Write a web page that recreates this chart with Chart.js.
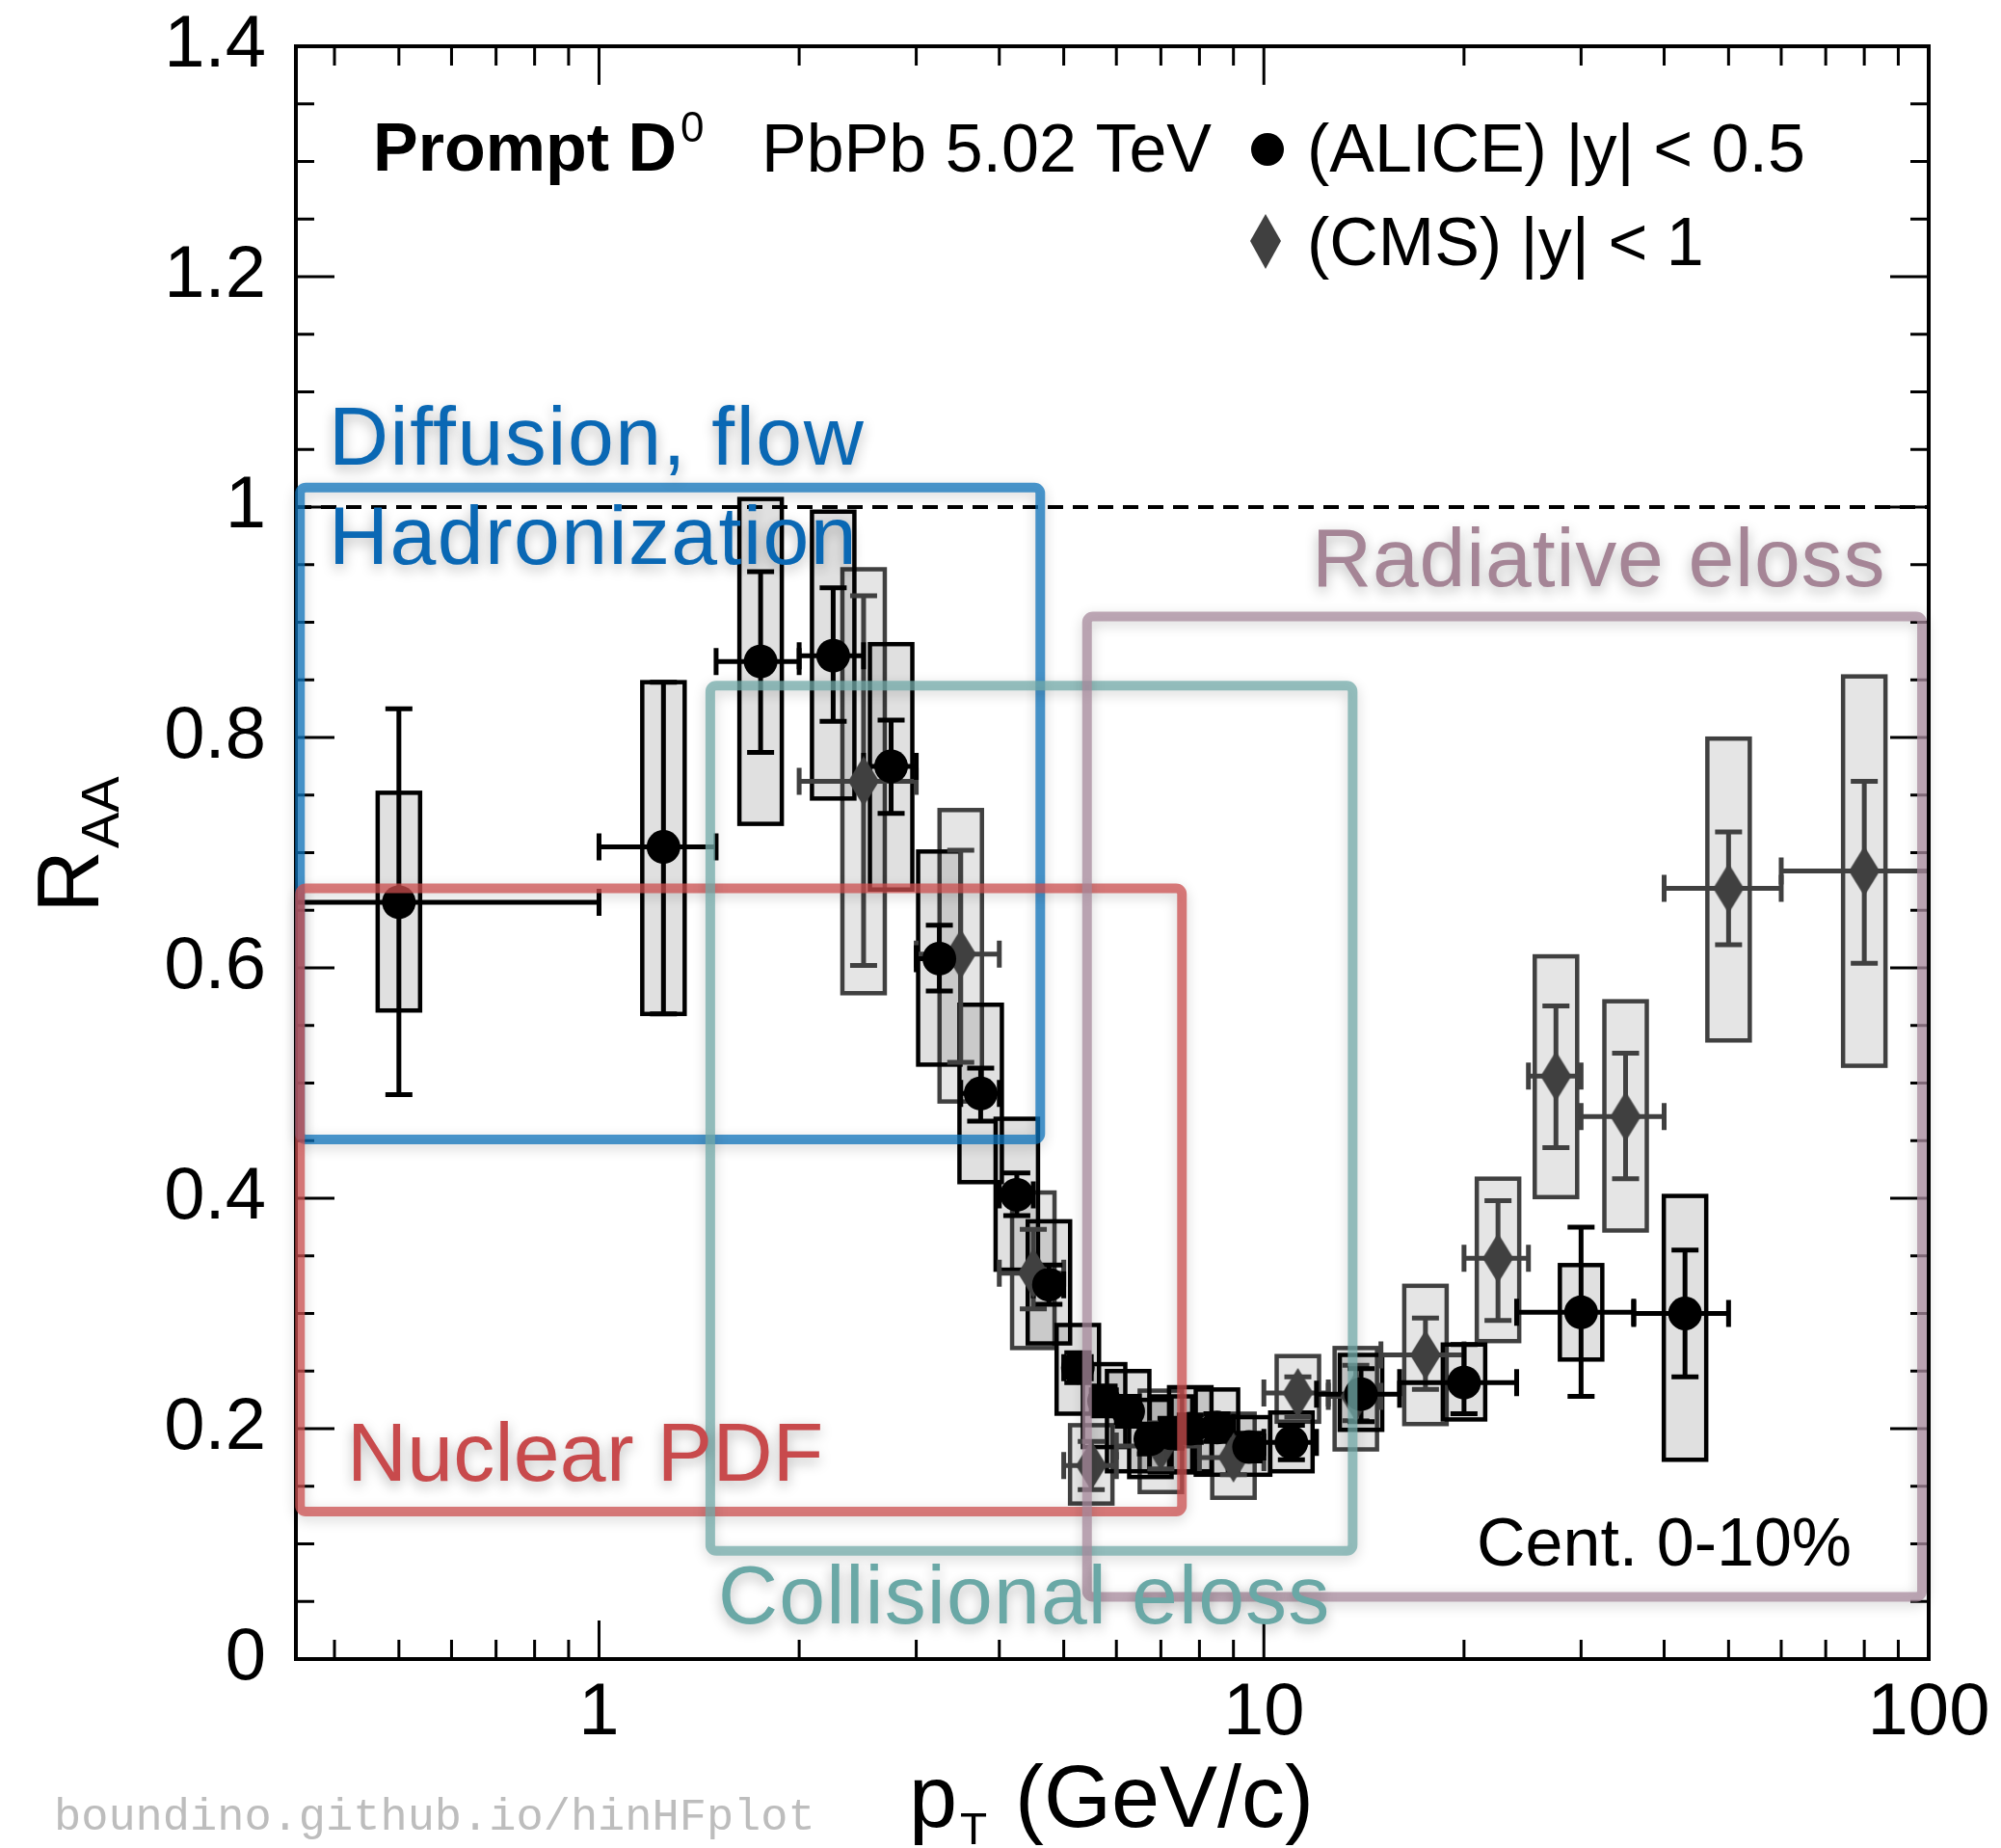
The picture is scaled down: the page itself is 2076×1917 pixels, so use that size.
<!DOCTYPE html>
<html>
<head>
<meta charset="utf-8">
<script src="https://cdn.jsdelivr.net/npm/chart.js@4/dist/chart.umd.min.js"></script>
<style>
html,body{margin:0;padding:0;background:#fff;}
#wrap{width:2076px;height:1917px;position:relative;}
</style>
</head>
<body>
<div id="wrap"><canvas id="c" width="2076" height="1917"></canvas></div>
<script>
// ---------------- DATA ----------------
const xTickValues = [1, 10, 100];
const xTickLabels = ['1', '10', '100'];
const yTickValues = [0, 0.2, 0.4, 0.6, 0.8, 1.0, 1.2, 1.4];
const yTickLabels = ['0', '0.2', '0.4', '0.6', '0.8', '1', '1.2', '1.4'];

// ALICE |y|<0.5
const aliceX      = [0.5, 1.25, 1.75, 2.25, 2.75, 3.25, 3.75, 4.25, 4.75, 5.25, 5.75, 6.25, 6.75, 7.25, 7.75, 8.5, 9.5, 11, 14, 20, 30, 43];
const aliceXLow   = [0, 1, 1.5, 2, 2.5, 3, 3.5, 4, 4.5, 5, 5.5, 6, 6.5, 7, 7.5, 8, 9, 10, 12, 16, 24, 36];
const aliceXHigh  = [1, 1.5, 2, 2.5, 3, 3.5, 4, 4.5, 5, 5.5, 6, 6.5, 7, 7.5, 8, 9, 10, 12, 16, 24, 36, 50];
const aliceY      = [0.657, 0.705, 0.866, 0.871, 0.775, 0.608, 0.491, 0.403, 0.325, 0.253, 0.224, 0.215, 0.191, 0.196, 0.200, 0.201, 0.184, 0.188, 0.230, 0.240, 0.301, 0.300];
const aliceStatLow  = [0.490, 0.560, 0.787, 0.814, 0.734, 0.580, 0.467, 0.385, 0.308, 0.240, 0.211, 0.202, 0.178, 0.183, 0.188, 0.189, 0.172, 0.173, 0.206, 0.213, 0.228, 0.245];
const aliceStatHigh = [0.825, 0.848, 0.944, 0.930, 0.815, 0.637, 0.513, 0.422, 0.342, 0.266, 0.237, 0.228, 0.204, 0.209, 0.212, 0.213, 0.196, 0.203, 0.252, 0.273, 0.375, 0.355];
const aliceSysLow   = [0.563, 0.560, 0.725, 0.747, 0.668, 0.516, 0.414, 0.338, 0.274, 0.213, 0.184, 0.163, 0.158, 0.162, 0.163, 0.160, 0.160, 0.163, 0.199, 0.208, 0.260, 0.173];
const aliceSysHigh  = [0.752, 0.848, 1.007, 0.996, 0.881, 0.701, 0.568, 0.469, 0.380, 0.290, 0.256, 0.250, 0.225, 0.228, 0.236, 0.234, 0.210, 0.214, 0.264, 0.273, 0.342, 0.402];

// CMS |y|<1
const cmsX      = [2.5, 3.5, 4.5, 5.5, 7, 9, 11.25, 13.75, 17.5, 22.5, 27.5, 35, 50, 80];
const cmsXLow   = [2, 3, 4, 5, 6, 8, 10, 12.5, 15, 20, 25, 30, 40, 60];
const cmsXHigh  = [3, 4, 5, 6, 8, 10, 12.5, 15, 20, 25, 30, 40, 60, 100];
const cmsY      = [0.762, 0.612, 0.335, 0.168, 0.185, 0.175, 0.231, 0.228, 0.264, 0.348, 0.506, 0.471, 0.669, 0.684];
const cmsStatLow  = [0.602, 0.518, 0.304, 0.147, 0.165, 0.160, 0.210, 0.207, 0.234, 0.294, 0.444, 0.417, 0.620, 0.604];
const cmsStatHigh = [0.923, 0.702, 0.373, 0.189, 0.205, 0.190, 0.245, 0.255, 0.296, 0.398, 0.567, 0.526, 0.718, 0.762];
const cmsSysLow   = [0.578, 0.484, 0.270, 0.135, 0.145, 0.140, 0.206, 0.182, 0.204, 0.276, 0.401, 0.372, 0.537, 0.515];
const cmsSysHigh  = [0.946, 0.737, 0.405, 0.203, 0.233, 0.213, 0.263, 0.270, 0.324, 0.417, 0.610, 0.571, 0.799, 0.853];

// Physics-region annotation boxes (data units)
const regionNames = ['Diffusion/Hadronization', 'Nuclear PDF', 'Collisional eloss', 'Radiative eloss'];
const regionXMin = [0.355, 0.355, 1.47, 5.42];
const regionXMax = [4.61, 7.53, 13.6, 97.7];
const regionYMin = [0.451, 0.128, 0.094, 0.054];
const regionYMax = [1.017, 0.669, 0.845, 0.905];

const xMin = 0.35, xMax = 100, yMin = 0, yMax = 1.4;
const refLine = 1;

// ---------------- STYLE ----------------
const FONT = '"Liberation Sans", Arial, Helvetica, sans-serif';
const regionStroke = ['rgba(14,115,187,0.75)', 'rgba(204,79,79,0.75)', 'rgba(115,171,170,0.75)', 'rgba(168,139,158,0.75)'];
const ALICE_COLOR = '#000000';
const CMS_COLOR = '#404040';

function makeDiamond(w, h, color) {
  const c = document.createElement('canvas');
  c.width = w; c.height = h;
  const g = c.getContext('2d');
  g.fillStyle = color;
  g.beginPath();
  g.moveTo(w / 2, 0); g.lineTo(w, h / 2); g.lineTo(w / 2, h); g.lineTo(0, h / 2);
  g.closePath(); g.fill();
  return c;
}
const diamondImg = makeDiamond(32, 52, CMS_COLOR);

function drawErrSeries(ctx, xs, ys, xs0, xs1, st0, st1, color, lw) {
  const X = ctx._xs, Y = ctx._ys;
  ctx.strokeStyle = color; ctx.lineWidth = lw; ctx.lineCap = 'butt';
  const cap = 14;
  for (let i = 0; i < xs.length; i++) {
    const cx = X.getPixelForValue(xs[i]);
    const cy = Y.getPixelForValue(ys[i]);
    const t = Y.getPixelForValue(st1[i]);
    const b = Y.getPixelForValue(st0[i]);
    ctx.beginPath();
    ctx.moveTo(cx, t); ctx.lineTo(cx, b);
    ctx.moveTo(cx - cap, t); ctx.lineTo(cx + cap, t);
    ctx.moveTo(cx - cap, b); ctx.lineTo(cx + cap, b);
    const l = X.getPixelForValue(xs0[i]);
    const r = X.getPixelForValue(xs1[i]);
    ctx.moveTo(l, cy); ctx.lineTo(r, cy);
    if (xs0[i] > X.min) { ctx.moveTo(l, cy - cap); ctx.lineTo(l, cy + cap); }
    if (xs1[i] < X.max) { ctx.moveTo(r, cy - cap); ctx.lineTo(r, cy + cap); }
    ctx.stroke();
  }
}
function drawBoxes(ctx, xs, lo, hi, stroke, fill) {
  const X = ctx._xs, Y = ctx._ys;
  const hw = 22;
  ctx.lineWidth = 4.5;
  for (let i = 0; i < xs.length; i++) {
    const cx = X.getPixelForValue(xs[i]);
    const t = Y.getPixelForValue(hi[i]);
    const b = Y.getPixelForValue(lo[i]);
    ctx.fillStyle = fill;
    ctx.fillRect(cx - hw, t, 2 * hw, b - t);
    ctx.strokeStyle = stroke;
    ctx.strokeRect(cx - hw, t, 2 * hw, b - t);
  }
}

const dataPlugin = {
  id: 'dataBars',
  beforeDatasetsDraw(chart) {
    const { ctx, chartArea: a, scales: { x, y } } = chart;
    ctx.save();
    ctx._xs = x; ctx._ys = y;
    ctx.beginPath(); ctx.rect(a.left, a.top, a.right - a.left, a.bottom - a.top); ctx.clip();
    ctx.strokeStyle = '#000'; ctx.lineWidth = 4; ctx.setLineDash([16, 10]);
    ctx.beginPath();
    ctx.moveTo(a.left, y.getPixelForValue(refLine));
    ctx.lineTo(a.right, y.getPixelForValue(refLine));
    ctx.stroke();
    ctx.setLineDash([]);
    drawBoxes(ctx, cmsX, cmsSysLow, cmsSysHigh, CMS_COLOR, 'rgba(0,0,0,0.10)');
    drawBoxes(ctx, aliceX, aliceSysLow, aliceSysHigh, ALICE_COLOR, 'rgba(0,0,0,0.12)');
    drawErrSeries(ctx, cmsX, cmsY, cmsXLow, cmsXHigh, cmsStatLow, cmsStatHigh, CMS_COLOR, 5);
    drawErrSeries(ctx, aliceX, aliceY, aliceXLow, aliceXHigh, aliceStatLow, aliceStatHigh, ALICE_COLOR, 5);
    ctx.restore();
  }
};

const framePlugin = {
  id: 'frame',
  afterDatasetsDraw(chart) {
    const { ctx, chartArea: a, scales: { x, y } } = chart;
    ctx.save();
    ctx.strokeStyle = '#000';
    ctx.lineWidth = 3;
    ctx.beginPath();
    for (let k = 0; k <= 28; k++) {
      const v = k * 0.05;
      const p = y.getPixelForValue(v);
      const len = (k % 4 === 0) ? 40 : 19;
      ctx.moveTo(a.left, p); ctx.lineTo(a.left + len, p);
      ctx.moveTo(a.right, p); ctx.lineTo(a.right - len, p);
    }
    for (const dec of [0.1, 1, 10]) {
      for (let k = 1; k <= 9; k++) {
        const v = k * dec;
        if (v < xMin - 1e-9 || v > xMax + 1e-9) continue;
        const p = x.getPixelForValue(v);
        const len = (k === 1) ? 40 : 20;
        ctx.moveTo(p, a.bottom); ctx.lineTo(p, a.bottom - len);
        ctx.moveTo(p, a.top); ctx.lineTo(p, a.top + len);
      }
    }
    const p100 = x.getPixelForValue(100);
    ctx.moveTo(p100, a.bottom); ctx.lineTo(p100, a.bottom - 40);
    ctx.stroke();
    ctx.lineWidth = 4;
    ctx.strokeRect(a.left, a.top, a.right - a.left, a.bottom - a.top);
    ctx.restore();
  }
};

const annotPlugin = {
  id: 'annot',
  afterDraw(chart) {
    const { ctx, scales: { x, y } } = chart;
    ctx.save();
    for (let i = 0; i < regionNames.length; i++) {
      const l = x.getPixelForValue(regionXMin[i]);
      const r = x.getPixelForValue(regionXMax[i]);
      const t = y.getPixelForValue(regionYMax[i]);
      const b = y.getPixelForValue(regionYMin[i]);
      ctx.save();
      ctx.shadowColor = 'rgba(0,0,0,0.22)';
      ctx.shadowBlur = 14; ctx.shadowOffsetY = 4;
      ctx.strokeStyle = regionStroke[i];
      ctx.lineWidth = 10;
      ctx.beginPath();
      ctx.roundRect(l, t, r - l, b - t, 6);
      ctx.stroke();
      ctx.restore();
    }
    const labels = [
      ['Diffusion, flow', 341, 482, '#0a68b4', 1.5],
      ['Hadronization', 341, 585, '#0a68b4', 1.4],
      ['Radiative eloss', 1361, 608, '#a58596', 0.8],
      ['Nuclear PDF', 360, 1536, '#c84a4c', 0.2],
      ['Collisional eloss', 745, 1684, '#6aa8a6', 1.1]
    ];
    ctx.font = '86px ' + FONT;
    ctx.textAlign = 'left'; ctx.textBaseline = 'alphabetic';
    for (const [txt, lx, ly, col, sp] of labels) {
      ctx.save();
      ctx.letterSpacing = sp + 'px';
      ctx.shadowColor = 'rgba(0,0,0,0.28)';
      ctx.shadowBlur = 14; ctx.shadowOffsetY = 5;
      ctx.fillStyle = col;
      ctx.fillText(txt, lx, ly);
      ctx.restore();
    }
    ctx.fillStyle = '#000';
    ctx.font = 'bold 70px ' + FONT;
    ctx.fillText('Prompt D', 387, 177);
    ctx.font = '44px ' + FONT;
    ctx.fillText('0', 706, 147);
    ctx.font = '70px ' + FONT;
    ctx.fillText('PbPb 5.02 TeV', 790, 178);
    ctx.beginPath(); ctx.arc(1315, 155, 17, 0, Math.PI * 2); ctx.fillStyle = ALICE_COLOR; ctx.fill();
    ctx.fillStyle = '#000';
    ctx.fillText('(ALICE) |y| < 0.5', 1356, 178);
    ctx.fillStyle = CMS_COLOR;
    ctx.beginPath(); ctx.moveTo(1313, 222); ctx.lineTo(1329, 250); ctx.lineTo(1313, 279); ctx.lineTo(1297, 250); ctx.closePath(); ctx.fill();
    ctx.fillStyle = '#000';
    ctx.fillText('(CMS) |y| < 1', 1356, 275);
    ctx.fillText('Cent. 0-10%', 1532, 1624);
    ctx.font = '90px ' + FONT;
    ctx.fillText('p', 943, 1895);
    ctx.font = '46px ' + FONT;
    ctx.fillText('T', 996, 1913);
    ctx.font = '90px ' + FONT;
    ctx.fillText('(GeV/c)', 1053, 1895);
    ctx.save();
    ctx.translate(102, 947);
    ctx.rotate(-Math.PI / 2);
    ctx.font = '90px ' + FONT;
    ctx.fillText('R', 0, 0);
    const rw = ctx.measureText('R').width;
    ctx.font = '56px ' + FONT;
    ctx.fillText('AA', rw + 2, 21);
    ctx.restore();
    ctx.font = '47px "Liberation Mono", "DejaVu Sans Mono", monospace';
    ctx.fillStyle = '#bdbdbd';
    ctx.fillText('boundino.github.io/hinHFplot', 56, 1898);
    ctx.restore();
  }
};

new Chart(document.getElementById('c'), {
  type: 'scatter',
  data: {
    datasets: [
      { label: 'ALICE', order: 0, data: aliceX.map((v, i) => ({ x: v, y: aliceY[i] })),
        pointStyle: 'circle', pointRadius: 17.5, backgroundColor: ALICE_COLOR, borderColor: ALICE_COLOR, borderWidth: 0 },
      { label: 'CMS', order: 1, data: cmsX.map((v, i) => ({ x: v, y: cmsY[i] })),
        pointStyle: diamondImg, pointRadius: 16, backgroundColor: CMS_COLOR, borderColor: CMS_COLOR, borderWidth: 0 }
    ]
  },
  options: {
    responsive: false, animation: false, devicePixelRatio: 1, events: [],
    layout: { padding: { left: 0, right: 75, top: 48, bottom: 0 } },
    plugins: { legend: { display: false }, tooltip: { enabled: false } },
    scales: {
      x: {
        type: 'logarithmic', min: xMin, max: xMax,
        grid: { display: false }, border: { display: false },
        afterBuildTicks: s => { s.ticks = xTickValues.map(v => ({ value: v })); },
        afterFit: s => { s.height = 196; s.paddingLeft = 0; s.paddingRight = 0; },
        ticks: { autoSkip: false, maxRotation: 0, minRotation: 0, padding: 3, color: '#000',
          font: { family: FONT, size: 76 }, callback: (v, i) => xTickLabels[i] }
      },
      y: {
        type: 'linear', min: yMin, max: yMax,
        grid: { display: false }, border: { display: false },
        afterBuildTicks: s => { s.ticks = yTickValues.map(v => ({ value: v })); },
        afterFit: s => { s.width = 307; s.paddingTop = 0; s.paddingBottom = 0; },
        ticks: { padding: 23, color: '#000', font: { family: FONT, size: 76 }, callback: (v, i) => yTickLabels[i] }
      }
    }
  },
  plugins: [dataPlugin, framePlugin, annotPlugin]
});
</script>
</body>
</html>
